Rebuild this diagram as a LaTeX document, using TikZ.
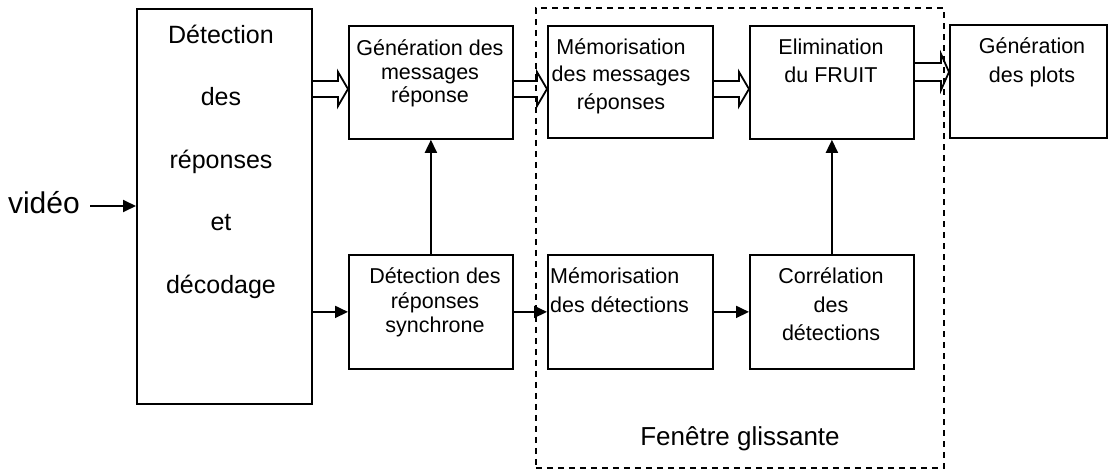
\documentclass[tikz,border=0pt]{standalone}
\usepackage{fontspec}
\setmainfont{Liberation Sans}
\usetikzlibrary{arrows.meta,calc}
\tikzset{
	bloc/.style={draw, line width=1.8pt, anchor=north west, inner sep=0pt},
	txt/.style={anchor=north, inner sep=0pt, align=center},
	fleche/.style={line width=1.8pt, -{Triangle[length=13pt,width=12pt]}},
	creux/.style={line width=1.8pt, line join=miter},
	fenetre/.style={line width=1.6pt, dash pattern=on 6pt off 5pt},
}
\newcommand{\taille}[2]{\fontsize{#1}{#2}\selectfont}
\newcommand{\flechecreuse}[6]{%
	\path (#1.east |- 0,#3) coordinate (fc-a) (#2.west |- 0,#3) coordinate (fc-b);
	\draw[creux] ($(fc-a)+(0,-#4)$) -- ($(fc-b)+(-#6,-#4)$) -- ($(fc-b)+(-#6,-#5)$) -- (fc-b) -- ($(fc-b)+(-#6,#5)$) -- ($(fc-b)+(-#6,#4)$) -- ($(fc-a)+(0,#4)$);
}
\begin{document}
\begin{tikzpicture}[x=1pt, y=-1pt]
	\useasboundingbox (0,0) rectangle (1110,473);
	\node[bloc, fenetre, minimum width=408pt, minimum height=460pt] (glis) at (535,7) {};
	\node[bloc, minimum width=175pt, minimum height=395pt] (det) at (136,8) {};
	\node[bloc, minimum width=164pt, minimum height=113pt] (gen) at (348,25) {};
	\node[bloc, minimum width=165pt, minimum height=112pt] (memm) at (547,25) {};
	\node[bloc, minimum width=164pt, minimum height=113pt] (eli) at (749,25) {};
	\node[bloc, minimum width=157pt, minimum height=113pt] (plots) at (949,24) {};
	\node[bloc, minimum width=164pt, minimum height=114pt] (syn) at (348,254) {};
	\node[bloc, minimum width=165pt, minimum height=114pt] (memd) at (547,254) {};
	\node[bloc, minimum width=164pt, minimum height=114pt] (cor) at (749,254) {};
	\node[txt, font=\taille{25}{62.5}] (det-t) at (221,24.5) {Détection\\des\\réponses\\et\\décodage};
	\node[txt, font=\taille{21.5}{23.5}] (gen-t) at (430,39.5) {Génération des\\messages\\réponse};
	\node[txt, font=\taille{21.5}{27.5}] (memm-t) at (621,38) {Mémorisation\\des messages\\réponses};
	\node[txt, font=\taille{21.5}{27.5}] (eli-t) at (831,39) {Elimination\\du FRUIT};
	\node[txt, font=\taille{21.5}{29}] (plots-t) at (1032,37.5) {Génération\\des plots};
	\node[txt, font=\taille{21.5}{24.5}] (syn-t) at (435,267.5) {Détection des\\réponses\\synchrone};
	\node[txt, anchor=north west, align=left, font=\taille{21.5}{29}] (memd-t) at (550,267.5) {Mémorisation\\des détections};
	\node[txt, font=\taille{21.5}{28.5}] (cor-t) at (831,267.5) {Corrélation\\des\\détections};
	\node[anchor=base east, inner sep=0pt, font=\taille{30}{36}] (vid) at (80,213) {vidéo};
	\node[anchor=base, inner sep=0pt, font=\taille{26}{31}] (glis-t) at (740,445) {Fenêtre glissante};
	\coordinate (vid-f) at (90,206);
	\draw[fleche] (vid-f) -- (vid-f -| det.west);
	\draw[fleche] (det.east |- syn.west) -- (syn.west);
	\draw[fleche] (syn.east) -- (memd.west);
	\draw[fleche] (memd.east) -- (cor.west);
	\draw[fleche] (syn.north) -- (gen.south);
	\draw[fleche] (cor.north) -- (eli.south);
	\flechecreuse{det}{gen}{89}{8}{17}{10}
	\flechecreuse{gen}{memm}{89}{8}{17}{10}
	\flechecreuse{memm}{eli}{89}{8}{17}{10}
	\flechecreuse{eli}{plots}{72}{9}{18}{8}
\end{tikzpicture}
\end{document}
